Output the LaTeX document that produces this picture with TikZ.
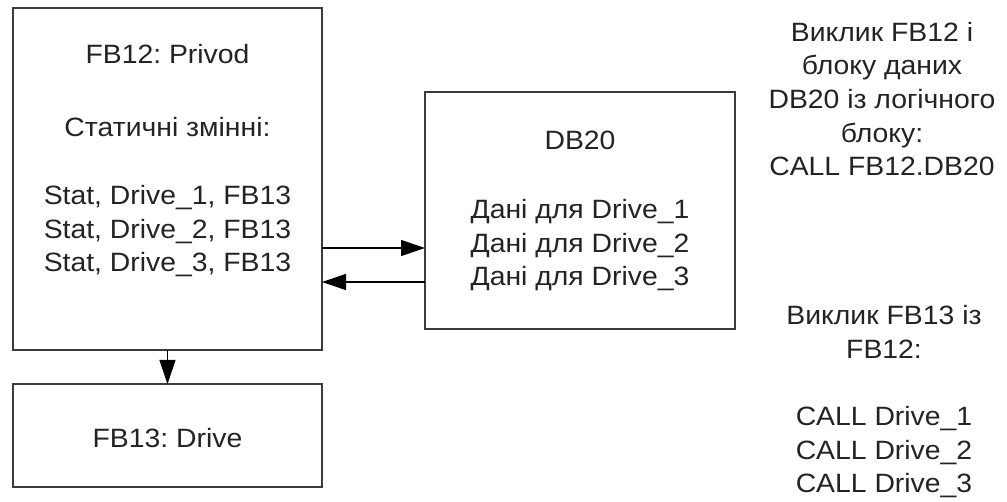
\documentclass[tikz,border=0pt]{standalone}
\usepackage{fontspec}
\setmainfont{Liberation Sans}[FakeStretch=1.07]
\usetikzlibrary{arrows.meta}
\frenchspacing
\definecolor{boxline}{RGB}{60,60,60}
\definecolor{txt}{RGB}{35,35,35}
\tikzset{
  block/.style={draw=boxline, line width=1.4pt, fill=none},
  % multi-line labels: the base anchor sits on the last line's baseline
  lbl/.style={anchor=base, inner sep=0pt, align=center, text=txt,
    font=\fontsize{26.5}{33.7}\selectfont},
  flow/.style={draw=black, line width=1.1pt,
    -{Triangle[length=24pt,width=16pt]}}
}
\begin{document}
\begin{tikzpicture}[x=1pt,y=-1pt]
  \useasboundingbox (0,0) rectangle (1007,502);

  % function block FB12 and its static variables
  \draw[block] (13,8) rectangle (322,350);
  \node[lbl] (fb12title) at (167.5,64) {FB12: Privod};
  \node[lbl] (fb12stat) at (167.5,137) {Статичні змінні:};
  \node[lbl] (fb12vars) at (167.5,272) {Stat, Drive\_1, FB13\\Stat, Drive\_2, FB13\\Stat, Drive\_3, FB13};

  % function block FB13
  \draw[block] (13,384) rectangle (322,487);
  \node[lbl] (fb13) at (167.5,447) {FB13: Drive};

  % instance data block DB20
  \draw[block] (425,92) rectangle (735,329);
  \node[lbl] (db20title) at (580,150) {DB20};
  \node[lbl] (db20data) at (580,286) {Дані для Drive\_1\\Дані для Drive\_2\\Дані для Drive\_3};

  % connectors
  \coordinate (fb12bot) at (167.5,350);
  \coordinate (fb13top) at (167.5,384);
  \coordinate (outA) at (322,248);
  \coordinate (inA) at (425,248);
  \coordinate (outB) at (425,282);
  \coordinate (inB) at (322,282);
  \draw[flow] (fb12bot) -- (fb13top);
  \draw[flow] (outA) -- (inA);
  \draw[flow] (outB) -- (inB);

  % call notes
  \node[lbl] (note1) at (882,176) {Виклик FB12 і\\блоку даних\\DB20 із логічного\\блоку:\\CALL FB12.DB20};
  \node[lbl] (note2) at (884,493) {Виклик FB13 із\\FB12:\\[33.7pt]CALL Drive\_1\\CALL Drive\_2\\CALL Drive\_3};
\end{tikzpicture}
\end{document}
